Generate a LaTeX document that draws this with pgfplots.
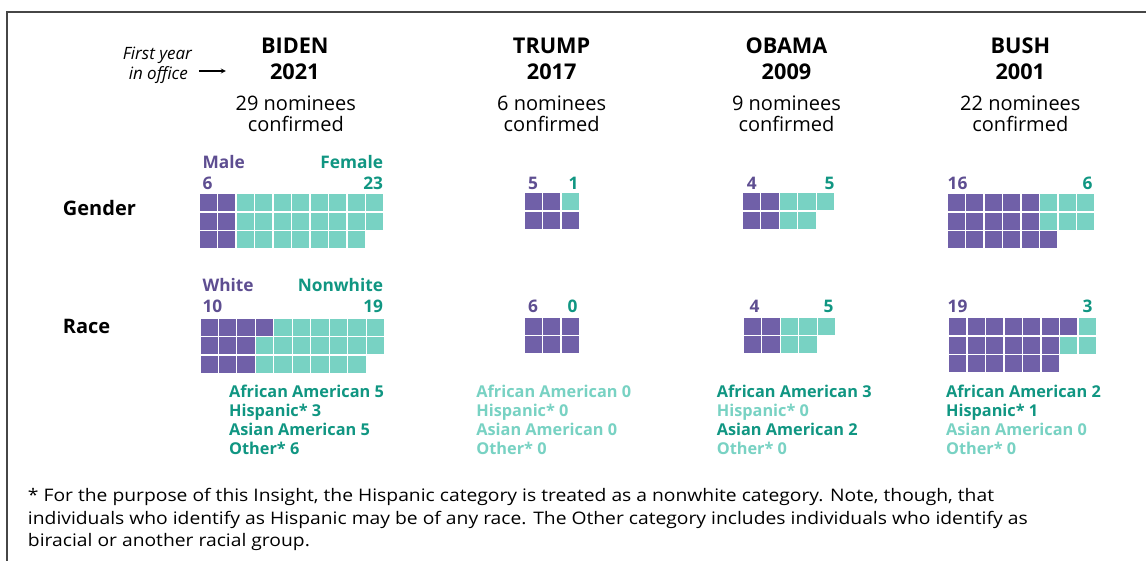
\documentclass[border=0pt]{standalone}
\usepackage{pgfplots}
\pgfplotsset{compat=1.18}
\usepackage{fontspec}
\setmainfont{Open Sans}
\newfontfamily\fnfont{Open Sans}[FakeStretch=1.115]
\definecolor{purpF}{RGB}{112,96,168}
\definecolor{tealF}{RGB}{120,210,195}
\definecolor{purpT}{RGB}{94,78,145}
\definecolor{tealT}{RGB}{16,150,130}
\definecolor{tealL}{RGB}{120,210,195}
\definecolor{frame}{RGB}{70,70,70}
\pgfplotsset{
  waf/.style={only marks, mark=square*, mark size=9.25pt, color=#1, mark options={solid, fill=#1, draw=white, line width=1.4pt}},
  table/row sep=\\,
}
\begin{document}
\begin{tikzpicture}
\begin{axis}[
  x=1pt, y=1pt, y dir=reverse,
  xmin=0, xmax=1147, ymin=0, ymax=561,
  scale only axis, hide axis, clip=false,
  anchor=north west, at={(0,0)},
]
\fill[white] (axis cs:0,0) rectangle (axis cs:1147,561);
\draw[frame, line width=1.5pt] (axis cs:7,561) -- (axis cs:7,12) -- (axis cs:1147,12);

% ---------- BIDEN gender (6 male, 23 female)
\addplot[waf=purpF] table[x expr=208.5+18.5*\thisrow{c}, y expr=202.8+18.5*\thisrow{r}] {
c r\\ 0 0\\ 0 1\\ 0 2\\ 1 0\\ 1 1\\ 1 2\\
};
\addplot[waf=tealF] table[x expr=208.5+18.5*\thisrow{c}, y expr=202.8+18.5*\thisrow{r}] {
c r\\ 2 0\\ 2 1\\ 2 2\\ 3 0\\ 3 1\\ 3 2\\ 4 0\\ 4 1\\ 4 2\\ 5 0\\ 5 1\\ 5 2\\ 6 0\\ 6 1\\ 6 2\\ 7 0\\ 7 1\\ 7 2\\ 8 0\\ 8 1\\ 8 2\\ 9 0\\ 9 1\\
};
% ---------- BIDEN race (10 white, 19 nonwhite)
\addplot[waf=purpF] table[x expr=209.2+18.5*\thisrow{c}, y expr=327.5+18.5*\thisrow{r}] {
c r\\ 0 0\\ 0 1\\ 0 2\\ 1 0\\ 1 1\\ 1 2\\ 2 0\\ 2 1\\ 2 2\\ 3 0\\
};
\addplot[waf=tealF] table[x expr=209.2+18.5*\thisrow{c}, y expr=327.5+18.5*\thisrow{r}] {
c r\\ 3 1\\ 3 2\\ 4 0\\ 4 1\\ 4 2\\ 5 0\\ 5 1\\ 5 2\\ 6 0\\ 6 1\\ 6 2\\ 7 0\\ 7 1\\ 7 2\\ 8 0\\ 8 1\\ 8 2\\ 9 0\\ 9 1\\
};
% ---------- TRUMP gender (5, 1)
\addplot[waf=purpF] table[x expr=533.5+18.5*\thisrow{c}, y expr=202+18.5*\thisrow{r}] {
c r\\ 0 0\\ 0 1\\ 1 0\\ 1 1\\ 2 1\\
};
\addplot[waf=tealF] table[x expr=533.5+18.5*\thisrow{c}, y expr=202+18.5*\thisrow{r}] {
c r\\ 2 0\\
};
% ---------- TRUMP race (6, 0)
\addplot[waf=purpF] table[x expr=533.5+18.5*\thisrow{c}, y expr=326.5+18.5*\thisrow{r}] {
c r\\ 0 0\\ 0 1\\ 1 0\\ 1 1\\ 2 0\\ 2 1\\
};
% ---------- OBAMA gender (4, 5)
\addplot[waf=purpF] table[x expr=752+18.5*\thisrow{c}, y expr=202+18.5*\thisrow{r}] {
c r\\ 0 0\\ 0 1\\ 1 0\\ 1 1\\
};
\addplot[waf=tealF] table[x expr=752+18.5*\thisrow{c}, y expr=202+18.5*\thisrow{r}] {
c r\\ 2 0\\ 2 1\\ 3 0\\ 3 1\\ 4 0\\
};
% ---------- OBAMA race (4, 5)
\addplot[waf=purpF] table[x expr=753+18.5*\thisrow{c}, y expr=326.5+18.5*\thisrow{r}] {
c r\\ 0 0\\ 0 1\\ 1 0\\ 1 1\\
};
\addplot[waf=tealF] table[x expr=753+18.5*\thisrow{c}, y expr=326.5+18.5*\thisrow{r}] {
c r\\ 2 0\\ 2 1\\ 3 0\\ 3 1\\ 4 0\\
};
% ---------- BUSH gender (16, 6)
\addplot[waf=purpF] table[x expr=957+18.5*\thisrow{c}, y expr=203+18.5*\thisrow{r}] {
c r\\ 0 0\\ 0 1\\ 0 2\\ 1 0\\ 1 1\\ 1 2\\ 2 0\\ 2 1\\ 2 2\\ 3 0\\ 3 1\\ 3 2\\ 4 0\\ 4 1\\ 4 2\\ 5 2\\
};
\addplot[waf=tealF] table[x expr=957+18.5*\thisrow{c}, y expr=203+18.5*\thisrow{r}] {
c r\\ 5 0\\ 5 1\\ 6 0\\ 6 1\\ 7 0\\ 7 1\\
};
% ---------- BUSH race (19, 3)
\addplot[waf=purpF] table[x expr=958.5+18.5*\thisrow{c}, y expr=327+18.5*\thisrow{r}] {
c r\\ 0 0\\ 0 1\\ 0 2\\ 1 0\\ 1 1\\ 1 2\\ 2 0\\ 2 1\\ 2 2\\ 3 0\\ 3 1\\ 3 2\\ 4 0\\ 4 1\\ 4 2\\ 5 0\\ 5 1\\ 5 2\\ 6 0\\
};
\addplot[waf=tealF] table[x expr=958.5+18.5*\thisrow{c}, y expr=327+18.5*\thisrow{r}] {
c r\\ 6 1\\ 7 0\\ 7 1\\
};

% ---------- headers
\tikzset{every node/.style={inner sep=0pt, outer sep=0pt}}
\node[anchor=base east, font=\fontsize{17}{20}\selectfont\itshape] at (axis cs:192,60) {First year};
\node[anchor=base east, font=\fontsize{17}{20}\selectfont\itshape] at (axis cs:188,80) {in office};
\draw[-stealth, line width=1.2pt] (axis cs:199,71) -- (axis cs:226,71);

\tikzset{ttl/.style={anchor=base, font=\fontsize{21.7}{24}\selectfont\bfseries},
         sub/.style={anchor=base, font=\fontsize{20}{22}\selectfont}}
\node[ttl] at (axis cs:295,53.3) {BIDEN};
\node[ttl] at (axis cs:295,80) {2021};
\node[sub] at (axis cs:296,110.7) {29 nominees};
\node[sub] at (axis cs:296,131.7) {confirmed};
\node[ttl] at (axis cs:552,53.3) {TRUMP};
\node[ttl] at (axis cs:552,80) {2017};
\node[sub] at (axis cs:552,110.7) {6 nominees};
\node[sub] at (axis cs:552,131.7) {confirmed};
\node[ttl] at (axis cs:787,53.3) {OBAMA};
\node[ttl] at (axis cs:787,80) {2009};
\node[sub] at (axis cs:787,110.7) {9 nominees};
\node[sub] at (axis cs:787,131.7) {confirmed};
\node[ttl] at (axis cs:1021,53.3) {BUSH};
\node[ttl] at (axis cs:1021,80) {2001};
\node[sub] at (axis cs:1021,110.7) {22 nominees};
\node[sub] at (axis cs:1021,131.7) {confirmed};

\node[anchor=base west, font=\fontsize{20}{22}\selectfont\bfseries] at (axis cs:63,216) {Gender};
\node[anchor=base west, font=\fontsize{20}{22}\selectfont\bfseries] at (axis cs:63,334) {Race};

% ---------- count labels
\tikzset{lab/.style={font=\fontsize{17.3}{21}\selectfont\bfseries}}
\node[lab, purpT, anchor=base west] at (axis cs:202.7,168.3) {Male};
\node[lab, tealT, anchor=base east] at (axis cs:383.3,168.3) {Female};
\node[lab, purpT, anchor=base west] at (axis cs:202.7,190) {6};
\node[lab, tealT, anchor=base east] at (axis cs:383.3,190) {23};
\node[lab, purpT, anchor=base west] at (axis cs:202.7,291.7) {White};
\node[lab, tealT, anchor=base east] at (axis cs:383.3,291.7) {Nonwhite};
\node[lab, purpT, anchor=base west] at (axis cs:202.7,312.7) {10};
\node[lab, tealT, anchor=base east] at (axis cs:383.3,312.7) {19};

\node[lab, purpT, anchor=base] at (axis cs:533.3,190) {5};
\node[lab, tealT, anchor=base] at (axis cs:574,190) {1};
\node[lab, purpT, anchor=base] at (axis cs:533.3,312.7) {6};
\node[lab, tealT, anchor=base] at (axis cs:573,312.7) {0};

\node[lab, purpT, anchor=base] at (axis cs:752.3,190) {4};
\node[lab, tealT, anchor=base] at (axis cs:830,190) {5};
\node[lab, purpT, anchor=base] at (axis cs:755,312.7) {4};
\node[lab, tealT, anchor=base] at (axis cs:829,312.7) {5};

\node[lab, purpT, anchor=base west] at (axis cs:948.3,190) {16};
\node[lab, tealT, anchor=base east] at (axis cs:1093.3,190) {6};
\node[lab, purpT, anchor=base west] at (axis cs:948.3,312.7) {19};
\node[lab, tealT, anchor=base east] at (axis cs:1093.3,312.7) {3};

% ---------- breakdown lists
\tikzset{lst/.style={font=\fontsize{16.3}{19}\selectfont\bfseries, anchor=base west}}
\node[lst, tealT] at (axis cs:229.3,397.7) {African American 5};
\node[lst, tealT] at (axis cs:229.3,416.7) {Hispanic* 3};
\node[lst, tealT] at (axis cs:229.3,436.2) {Asian American 5};
\node[lst, tealT] at (axis cs:229.3,455) {Other* 6};

\node[lst, tealL] at (axis cs:476.7,397.7) {African American 0};
\node[lst, tealL] at (axis cs:476.7,416.7) {Hispanic* 0};
\node[lst, tealL] at (axis cs:476.7,436.2) {Asian American 0};
\node[lst, tealL] at (axis cs:476.7,455) {Other* 0};

\node[lst, tealT] at (axis cs:717.3,397.7) {African American 3};
\node[lst, tealL] at (axis cs:717.3,416.7) {Hispanic* 0};
\node[lst, tealT] at (axis cs:717.3,436.2) {Asian American 2};
\node[lst, tealL] at (axis cs:717.3,455) {Other* 0};

\node[lst, tealT] at (axis cs:946.7,397.7) {African American 2};
\node[lst, tealT] at (axis cs:946.7,416.7) {Hispanic* 1};
\node[lst, tealL] at (axis cs:946.7,436.2) {Asian American 0};
\node[lst, tealL] at (axis cs:946.7,455) {Other* 0};

% ---------- footnote
\tikzset{fn/.style={font=\fnfont\fontsize{17.3}{20}\selectfont, anchor=base west}}
\node[fn] at (axis cs:28,501.5) {* For the purpose of this Insight, the Hispanic category is treated as a nonwhite category. Note, though, that};
\node[fn] at (axis cs:28,524.5) {individuals who identify as Hispanic may be of any race. The Other category includes individuals who identify as};
\node[fn] at (axis cs:28,547) {biracial or another racial group.};
\end{axis}
\end{tikzpicture}
\end{document}
